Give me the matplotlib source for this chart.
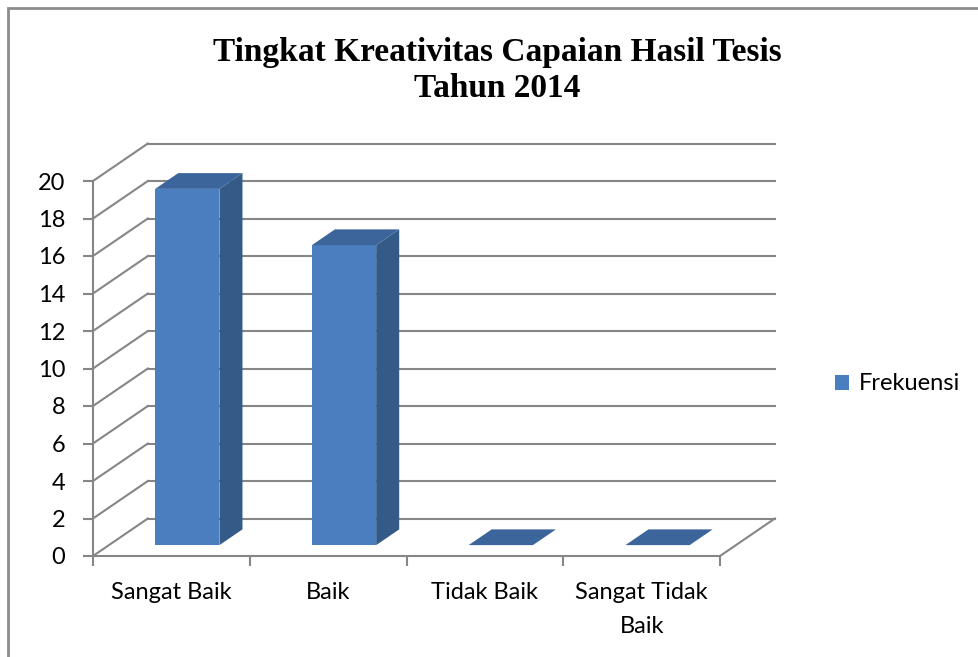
import numpy as np
import matplotlib.pyplot as plt
from matplotlib.patches import Polygon, Rectangle, Patch

# Data
categories = ["Sangat Baik", "Baik", "Tidak Baik", "Sangat Tidak\nBaik"]
frekuensi = [19, 16, 0, 0]
y_ticks = np.arange(0, 21, 2)
series_name = "Frekuensi"
title = "Tingkat Kreativitas Capaian Hasil Tesis\nTahun 2014"

# Style / pseudo-3d geometry (data units)
depth_x = 0.35      # wall depth along x (category units)
depth_y = 2.0       # wall depth along y (value units)
bar_w = 0.41
bar_front = 0.29    # fraction of depth where bar front sits
bar_back = 0.71
grid_c = "#868686"
front_c = "#4A7EBE"
side_c = "#345A88"
top_c = "#3B659B"

plt.rcParams["font.family"] = ["Lato", "DejaVu Sans"]

fig = plt.figure(figsize=(9.79, 6.57), dpi=100)
W, H = 979, 657
ax = fig.add_axes([93 / W, (H - 556) / H, 627 / W, 375 / H])
n = len(categories)
ax.set_xlim(0, n)
ax.set_ylim(0, y_ticks[-1])

# back wall gridlines and side wall diagonals
for v in y_ticks:
    ax.plot([depth_x, n + depth_x], [v + depth_y, v + depth_y], color=grid_c, lw=1.5,
            clip_on=False, zorder=1)
    ax.plot([0, depth_x], [v, v + depth_y], color=grid_c, lw=1.5, clip_on=False, zorder=1)
# floor right edge
ax.plot([n, n + depth_x], [0, depth_y], color=grid_c, lw=1.5, clip_on=False, zorder=1)

# bars
for i, val in enumerate(frekuensi):
    cx = i + 0.5
    fx0 = cx - bar_w / 2 + bar_front * depth_x
    fx1 = fx0 + bar_w
    fy0 = bar_front * depth_y
    ox = (bar_back - bar_front) * depth_x
    oy = (bar_back - bar_front) * depth_y
    top = fy0 + val
    if val > 0:
        ax.add_patch(Polygon([(fx1, fy0), (fx1 + ox, fy0 + oy), (fx1 + ox, top + oy), (fx1, top)],
                             closed=True, fc=side_c, ec="none", clip_on=False, zorder=3))
        ax.add_patch(Rectangle((fx0, fy0), bar_w, val, fc=front_c, ec="none",
                               clip_on=False, zorder=4))
    ax.add_patch(Polygon([(fx0, top), (fx1, top), (fx1 + ox, top + oy), (fx0 + ox, top + oy)],
                         closed=True, fc=top_c, ec="none", clip_on=False, zorder=4))

# axes styling
for s in ["top", "right"]:
    ax.spines[s].set_visible(False)
for s in ["left", "bottom"]:
    ax.spines[s].set_color(grid_c)
    ax.spines[s].set_linewidth(1.5)
    ax.spines[s].set_zorder(5)
ax.set_yticks(y_ticks)
ax.tick_params(axis="y", length=7, width=1.5, color=grid_c, pad=13, labelsize=17)
ax.set_xticks(np.arange(n + 1))
ax.set_xticklabels([])
ax.set_xticks(np.arange(n) + 0.5, minor=True)
ax.set_xticklabels(categories, minor=True, fontsize=17, linespacing=1.75)
ax.tick_params(axis="x", which="major", length=7, width=1.5, color=grid_c)
ax.tick_params(axis="x", which="minor", length=0, pad=19)
ax.patch.set_visible(False)

fig.text(0.508, 1 - 37 / H, title, ha="center", va="top", fontsize=24,
         fontweight="bold", family="Liberation Serif", linespacing=1.2)

fig.legend(handles=[Patch(fc=front_c, ec="none", label=series_name)],
           loc="center left", bbox_to_anchor=(814 / W, 1 - 384 / H), frameon=False,
           fontsize=17, handlelength=0.6, handleheight=0.6, handletextpad=0.4)

# chart area border
fig.add_artist(Rectangle((8 / W, -0.05), 1.1, 1 - 8 / H + 0.05, transform=fig.transFigure,
                         fill=False, ec="#8c8c8c", lw=2))

fig.savefig("out.png", dpi=100)
